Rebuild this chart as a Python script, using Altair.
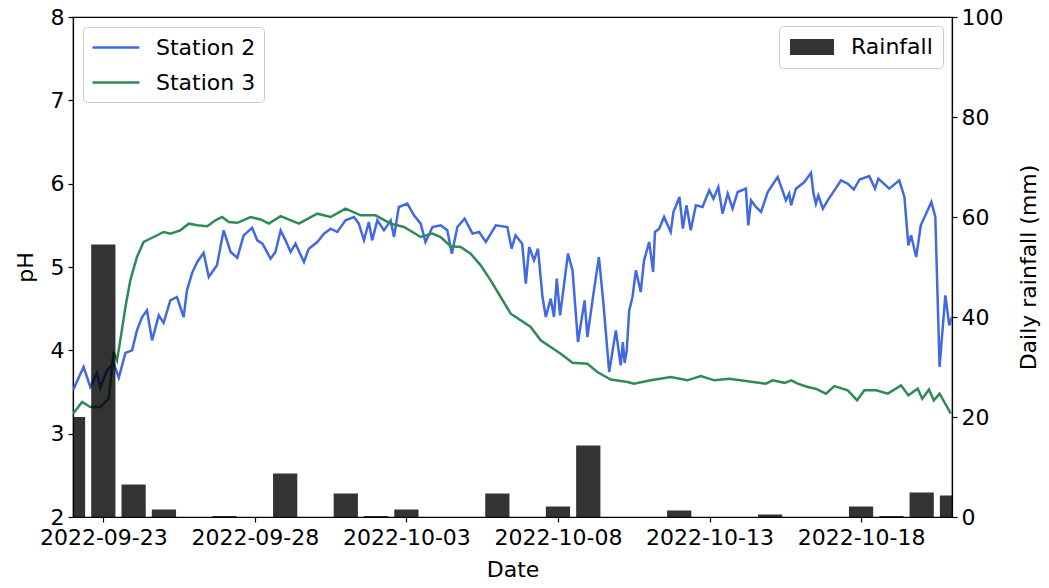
import altair as alt
import pandas as pd

# ---------------- data ----------------
# Station pH series: time given as days after 2022-09-22 00:00
st2_days = [0.00, 0.35, 0.57, 0.79, 0.90, 1.12, 1.34, 1.51, 1.73, 1.95, 2.11, 2.28, 2.44, 2.61,
            2.83, 2.99, 3.21, 3.43, 3.65, 3.76, 3.93, 4.10, 4.31, 4.48, 4.75, 4.97, 5.20, 5.42,
            5.63, 5.91, 6.08, 6.25, 6.52, 6.68, 6.85, 7.01, 7.18, 7.34, 7.62, 7.78, 8.06, 8.28,
            8.50, 8.72, 8.99, 9.27, 9.43, 9.60, 9.76, 9.87, 10.04, 10.26, 10.48, 10.59, 10.75,
            11.03, 11.25, 11.47, 11.63, 11.86, 12.13, 12.35, 12.50, 12.68, 12.92, 13.18, 13.40,
            13.62, 13.95, 14.33, 14.47, 14.60, 14.82, 14.94, 15.05, 15.21, 15.34, 15.49, 15.60,
            15.76, 15.87, 15.96, 16.07, 16.33, 16.48, 16.66, 16.88, 16.97, 17.14, 17.35, 17.50,
            17.69, 17.91, 18.07, 18.14, 18.20, 18.27, 18.35, 18.46, 18.57, 18.73, 18.84, 19.01,
            19.14, 19.20, 19.34, 19.50, 19.72, 19.81, 20.01, 20.12, 20.24, 20.38, 20.55, 20.77,
            20.99, 21.13, 21.29, 21.43, 21.60, 21.76, 21.93, 22.20, 22.28, 22.37, 22.53, 22.70,
            22.92, 23.25, 23.52, 23.63, 23.69, 23.85, 24.13, 24.35, 24.43, 24.51, 24.59, 24.74,
            24.90, 25.12, 25.34, 25.56, 25.76, 25.95, 26.27, 26.46, 26.57, 26.93, 27.26, 27.43,
            27.56, 27.65, 27.82, 27.97, 28.17, 28.32, 28.45, 28.59, 28.78, 28.91, 29.00]
st2_ph = [3.52, 3.80, 3.56, 3.73, 3.55, 3.76, 3.85, 3.67, 3.97, 4.00, 4.24, 4.40, 4.48, 4.12,
          4.42, 4.33, 4.60, 4.64, 4.40, 4.72, 4.93, 5.06, 5.17, 4.88, 5.02, 5.44, 5.18, 5.11,
          5.38, 5.47, 5.32, 5.28, 5.10, 5.18, 5.44, 5.32, 5.18, 5.28, 5.06, 5.22, 5.30, 5.40,
          5.46, 5.42, 5.56, 5.60, 5.52, 5.32, 5.54, 5.32, 5.56, 5.44, 5.56, 5.36, 5.72,
          5.76, 5.62, 5.52, 5.30, 5.48, 5.50, 5.44, 5.16, 5.48, 5.58, 5.40, 5.42,
          5.30, 5.50, 5.48, 5.22, 5.38, 5.28, 4.80, 5.24, 5.08, 5.22, 4.64, 4.40,
          4.62, 4.40, 4.86, 4.42, 5.16, 4.96, 4.10, 4.60, 4.16, 4.60, 5.12, 4.56,
          3.74, 4.24, 3.82, 4.10, 3.85, 4.00, 4.48, 4.64, 4.96, 4.70, 5.08, 5.30,
          4.94, 5.42, 5.46, 5.60, 5.42, 5.66, 5.84, 5.46, 5.74, 5.44, 5.74, 5.72,
          5.92, 5.82, 5.96, 5.64, 5.88, 5.70, 5.90, 5.94, 5.50, 5.80, 5.72, 5.66,
          5.90, 6.08, 5.80, 5.88, 5.74, 5.94, 6.02, 6.13, 5.88, 5.76, 5.86, 5.70,
          5.80, 5.92, 6.04, 6.00, 5.93, 6.05, 6.09, 5.94, 6.06, 5.94, 6.04, 5.84,
          5.26, 5.38, 5.12, 5.50, 5.66, 5.78, 5.60, 3.80, 4.66, 4.30, 4.40]

st3_days = [0.00, 0.30, 0.57, 0.90, 1.18, 1.34, 1.45, 1.56, 1.73, 1.89, 2.11, 2.33, 2.66, 2.99,
            3.21, 3.54, 3.82, 4.10, 4.43, 4.70, 4.92, 5.14, 5.42, 5.86, 6.19, 6.46, 6.85, 7.45,
            8.06, 8.50, 8.99, 9.49, 9.98, 10.48, 10.92, 11.47, 11.86, 12.13, 12.46, 12.79,
            13.12, 13.45, 13.78, 14.11, 14.44, 14.77, 15.10, 15.43, 15.76, 16.09, 16.48, 16.97,
            17.30, 17.74, 18.30, 18.51, 19.06, 19.72, 20.27, 20.71, 21.16, 21.65, 22.26, 22.86,
            23.08, 23.48, 23.70, 23.91, 24.24, 24.50, 24.84, 25.12, 25.56, 25.87, 26.11, 26.50,
            26.88, 27.32, 27.56, 27.87, 28.02, 28.24, 28.40, 28.59, 28.84, 28.96]
st3_ph = [3.24, 3.38, 3.32, 3.32, 3.42, 3.98, 3.88, 4.12, 4.52, 4.84, 5.12, 5.30, 5.36, 5.42,
          5.40, 5.44, 5.52, 5.50, 5.49, 5.56, 5.60, 5.54, 5.53, 5.60, 5.57, 5.52, 5.61, 5.52,
          5.64, 5.60, 5.70, 5.62, 5.62, 5.52, 5.48, 5.36, 5.40, 5.36, 5.25, 5.24,
          5.16, 5.02, 4.84, 4.64, 4.44, 4.36, 4.28, 4.12, 4.04, 3.96, 3.85, 3.84,
          3.74, 3.65, 3.62, 3.60, 3.64, 3.68, 3.64, 3.69, 3.64, 3.66, 3.63, 3.60,
          3.64, 3.61, 3.64, 3.60, 3.56, 3.54, 3.48, 3.57, 3.52, 3.40, 3.52, 3.52,
          3.48, 3.58, 3.46, 3.54, 3.42, 3.53, 3.40, 3.48, 3.32, 3.24]

rain_dates = ["2022-09-22", "2022-09-23", "2022-09-24", "2022-09-25", "2022-09-27",
              "2022-09-29", "2022-10-01", "2022-10-02", "2022-10-03", "2022-10-06",
              "2022-10-08", "2022-10-09", "2022-10-12", "2022-10-15", "2022-10-18",
              "2022-10-19", "2022-10-20", "2022-10-21"]
rain_mm = [20.0, 54.5, 6.5, 1.5, 0.2, 8.7, 4.7, 0.2, 1.5, 4.7, 2.1, 14.3, 1.3, 0.5, 2.1,
           0.2, 4.9, 4.3]

series_names = ["Station 2", "Station 3"]
series_colors = ["#4169E1", "#2E8B57"]
x_tick_dates = ["2022-09-23", "2022-09-28", "2022-10-03", "2022-10-08", "2022-10-13", "2022-10-18"]
x_range = ["2022-09-22", "2022-10-21"]
ph_ticks = [2, 3, 4, 5, 6, 7, 8]
rain_ticks = [0, 20, 40, 60, 80, 100]

# ---------------- tables ----------------
base = pd.Timestamp("2022-09-22")
fmt = "%Y-%m-%dT%H:%M:%S"
df2 = pd.DataFrame({"time": (base + pd.to_timedelta(st2_days, unit="D")).strftime(fmt),
                    "pH": st2_ph, "series": series_names[0]})
df3 = pd.DataFrame({"time": (base + pd.to_timedelta(st3_days, unit="D")).strftime(fmt),
                    "pH": st3_ph, "series": series_names[1]})
lines_df = pd.concat([df2, df3], ignore_index=True)

half_bar = pd.Timedelta(hours=9.6)
rd = pd.to_datetime(rain_dates)
rain_df = pd.DataFrame({"start": (rd - half_bar).strftime(fmt),
                        "end": (rd + half_bar).strftime(fmt),
                        "rain": rain_mm, "label": "Rainfall"})


def dt(s):
    t = pd.Timestamp(s)
    return alt.DateTime(year=t.year, month=t.month, date=t.day)


FONT = "DejaVu Sans"
xscale = alt.Scale(domain=[dt(x_range[0]), dt(x_range[1])])
xaxis = alt.Axis(values=[dt(s) for s in x_tick_dates], format="%Y-%m-%d", title="Date",
                 labelPadding=5, titlePadding=11, labelFlush=False)

lines = alt.Chart(lines_df).mark_line(strokeWidth=2.5, clip=True).encode(
    x=alt.X("time:T", scale=xscale, axis=xaxis),
    y=alt.Y("pH:Q", scale=alt.Scale(domain=[2, 8], nice=False, zero=False),
            axis=alt.Axis(values=ph_ticks, title="pH", labelPadding=4, titlePadding=13)),
    color=alt.Color("series:N",
                    scale=alt.Scale(domain=series_names, range=series_colors),
                    legend=alt.Legend(title=None, orient="top-left", offset=10,
                                      symbolType="M-1,0L3.27,0", symbolSize=484,
                                      symbolStrokeWidth=2.5, labelFontSize=22, labelFont=FONT,
                                      labelColor="black", labelOffset=40, padding=8,
                                      rowPadding=11, strokeColor="#cccccc",
                                      fillColor="rgba(255,255,255,0.8)", cornerRadius=4)),
)

bars = alt.Chart(rain_df).mark_bar(clip=True, opacity=0.8, stroke=None).encode(
    x=alt.X("start:T", scale=xscale, axis=xaxis),
    x2="end:T",
    y=alt.Y("rain:Q", scale=alt.Scale(domain=[0, 100], nice=False),
            axis=alt.Axis(orient="right", values=rain_ticks, title="Daily rainfall (mm)",
                          labelPadding=4, titlePadding=38, titleAngle=270)),
    y2=alt.datum(0),
    fill=alt.Fill("label:N", scale=alt.Scale(range=["black"]),
                  legend=alt.Legend(title=None, orient="top-right", offset=9,
                                    symbolType="M-1,-0.8L3.4,-0.8L3.4,0.8L-1,0.8Z",
                                    symbolSize=400, symbolOpacity=0.8, symbolStrokeWidth=0,
                                    labelFontSize=22, labelFont=FONT, labelColor="black",
                                    labelOffset=40, padding=10, strokeColor="#cccccc",
                                    fillColor="rgba(255,255,255,0.8)", cornerRadius=4)),
)

chart = alt.layer(lines, bars).resolve_scale(y="independent").properties(
    width=879, height=500,
    padding={"left": 65, "top": 9, "right": 89, "bottom": 63},
    autosize=alt.AutoSizeParams(type="none"),
).configure_axis(
    labelFont=FONT, labelFontSize=22, titleFont=FONT, titleFontSize=22,
    titleFontWeight="normal", labelColor="black", titleColor="black",
    domainColor="black", tickColor="black", tickSize=5, domainWidth=1.2, tickWidth=1.2,
    grid=False,
).configure_view(stroke="black", strokeWidth=1.2)

chart.save("out.html", embed_options={"renderer": "svg", "actions": False})
